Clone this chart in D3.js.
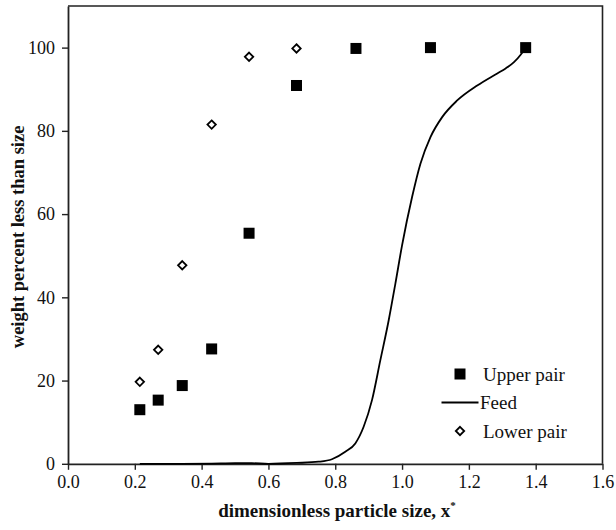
<!DOCTYPE html>
<html>
<head>
<meta charset="utf-8">
<script src="https://cdn.jsdelivr.net/npm/d3@7"></script>
<style>
  html, body { margin: 0; padding: 0; background: #fff; }
  svg { display: block; }
  text { font-family: "Liberation Serif", "Times New Roman", Times, serif; fill: #111; }
</style>
</head>
<body>
<svg id="chart" width="616" height="530"></svg>
<script>
// ---- data ----
const upperX = [0.215, 0.27, 0.342, 0.43, 0.542, 0.684, 0.862, 1.085, 1.37];
const upperY = [13.0, 15.3, 18.8, 27.6, 55.4, 90.9, 99.8, 100, 100];

const lowerX = [0.215, 0.27, 0.342, 0.43, 0.542, 0.684];
const lowerY = [19.7, 27.4, 47.7, 81.5, 97.8, 99.8];

const feedX = [0.215, 0.27, 0.34, 0.43, 0.50, 0.55, 0.60, 0.685, 0.75, 0.79, 0.83, 0.86, 0.885, 0.91, 0.935, 0.96, 0.98, 1.0, 1.03, 1.055, 1.085, 1.12, 1.165, 1.225, 1.285, 1.31, 1.335, 1.355, 1.37];
const feedY = [0, 0, 0, 0.05, 0.15, 0.15, 0, 0.2, 0.5, 1.1, 2.9, 4.9, 8.9, 15.3, 24.9, 34.5, 43.3, 52.5, 64.1, 72.1, 78.5, 83.3, 87.3, 90.9, 93.8, 95.0, 96.5, 98.3, 100];

const xTicks = [0.0, 0.2, 0.4, 0.6, 0.8, 1.0, 1.2, 1.4, 1.6];
const yTicks = [0, 20, 40, 60, 80, 100];

const seriesNames = ["Upper pair", "Feed", "Lower pair"];
const xTitle = "dimensionless particle size, x";
const yTitle = "weight percent less than size";

// ---- layout ----
const svg = d3.select("#chart");
const L = 68, R = 602.5, T = 6, B = 463.8;

const x = d3.scaleLinear().domain([0, 1.6]).range([L, R]);
const y = d3.scaleLinear().domain([0, 110]).range([B, T]);

// frame (top & right)
svg.append("path")
  .attr("d", `M${L},${T}H${R}V${B}`)
  .attr("fill", "none").attr("stroke", "#222").attr("stroke-width", 1.6);

// axes
const xAxis = svg.append("g").attr("transform", `translate(0,${B})`)
  .call(d3.axisBottom(x).tickValues(xTicks).tickFormat(d3.format(".1f")).tickSize(6).tickSizeOuter(0).tickPadding(5));
const yAxis = svg.append("g").attr("transform", `translate(${L},0)`)
  .call(d3.axisLeft(y).tickValues(yTicks).tickFormat(d3.format("d")).tickSize(6).tickSizeOuter(0).tickPadding(7));

[xAxis, yAxis].forEach(g => {
  g.attr("font-family", "'Liberation Serif', 'Times New Roman', serif");
  g.select(".domain").attr("stroke", "#222").attr("stroke-width", 1.8);
  g.selectAll(".tick line").attr("stroke", "#222").attr("stroke-width", 1.4);
  g.selectAll(".tick text").style("font-family", "'Liberation Serif', 'Times New Roman', serif").style("font-size", "18px").attr("fill", "#222");
});

// feed line
const feed = feedX.map((d, i) => [d, feedY[i]]);
svg.append("path")
  .datum(feed)
  .attr("fill", "none").attr("stroke", "#000").attr("stroke-width", 1.8)
  .attr("d", d3.line().x(d => x(d[0])).y(d => y(d[1])).curve(d3.curveMonotoneX));

// upper pair squares
const sq = 11;
svg.append("g").selectAll("rect")
  .data(upperX.map((d, i) => [d, upperY[i]]))
  .join("rect")
  .attr("x", d => x(d[0]) - sq / 2).attr("y", d => y(d[1]) - sq / 2)
  .attr("width", sq).attr("height", sq).attr("fill", "#000");

// lower pair diamonds
const dm = 4.2;
const diamond = (cx, cy) => `M${cx},${cy - dm}L${cx + dm},${cy}L${cx},${cy + dm}L${cx - dm},${cy}Z`;
svg.append("g").selectAll("path")
  .data(lowerX.map((d, i) => [d, lowerY[i]]))
  .join("path")
  .attr("d", d => diamond(x(d[0]), y(d[1])))
  .attr("fill", "#fff").attr("stroke", "#000").attr("stroke-width", 1.8);

// legend
const lg = svg.append("g");
lg.append("rect").attr("x", 460 - sq / 2).attr("y", 374 - sq / 2).attr("width", sq).attr("height", sq).attr("fill", "#000");
lg.append("text").attr("x", 483).attr("y", 380.5).style("font-size", "19px").text(seriesNames[0]);
lg.append("line").attr("x1", 441.5).attr("x2", 478.5).attr("y1", 402.5).attr("y2", 402.5).attr("stroke", "#000").attr("stroke-width", 1.8);
lg.append("text").attr("x", 480).attr("y", 409).style("font-size", "19px").text(seriesNames[1]);
lg.append("path").attr("d", diamond(460, 431)).attr("fill", "#fff").attr("stroke", "#000").attr("stroke-width", 1.8);
lg.append("text").attr("x", 483).attr("y", 438).style("font-size", "19px").text(seriesNames[2]);

// axis titles
const xt = svg.append("text").attr("x", 337).attr("y", 517).attr("text-anchor", "middle")
  .style("font-size", "19px").style("font-weight", "bold");
xt.append("tspan").text(xTitle);
xt.append("tspan").attr("dy", -8).style("font-size", "11px").text("*");

svg.append("text")
  .attr("transform", `translate(24,${(T + B) / 2 + 2}) rotate(-90)`)
  .attr("text-anchor", "middle")
  .style("font-size", "18.5px").style("font-weight", "bold")
  .text(yTitle);
</script>
</body>
</html>
